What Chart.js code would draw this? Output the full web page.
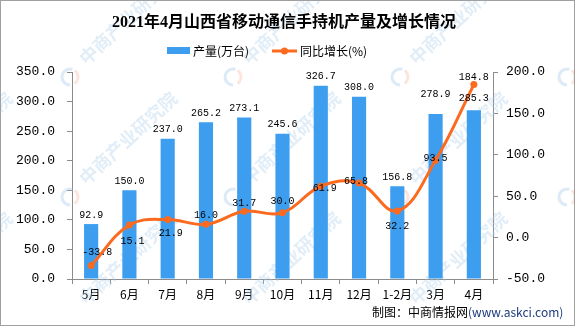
<!DOCTYPE html>
<html>
<head>
<meta charset="utf-8">
<script src="https://cdn.jsdelivr.net/npm/chart.js@4.4.1/dist/chart.umd.min.js"></script>
<style>
  html, body { margin: 0; padding: 0; background: #fff; }
  #wrap { width: 575px; height: 326px; position: relative; }
</style>
</head>
<body>
<div id="wrap"><canvas id="chart" width="575" height="326"></canvas></div>
<script>
const categories = ['5月', '6月', '7月', '8月', '9月', '10月', '11月', '12月', '1-2月', '3月', '4月'];
const output = [92.9, 150.0, 237.0, 265.2, 273.1, 245.6, 326.7, 308.0, 156.8, 278.9, 285.3];
const growth = [-33.8, 15.1, 21.9, 16.0, 31.7, 30.0, 61.9, 65.8, 32.2, 93.5, 184.8];

// label nudges (px) so the value texts sit where the original puts them
const barLabelGap = [9, 9, 9, 9, 9, 9, 9, 9, 9, 20, 12];
const lineLabelDx = [6, 3, 3, 0, 0, 0, 4, -3, 0, 0, 0];
const lineLabelDy = [-13, 16, 14, -9, -8, -11, 2, -2, 15, -2, -7];

const titleText = '2021年4月山西省移动通信手持机产量及增长情况';
const barColor = '#3d9ef0';
const lineColor = '#fb6a1f';
const axisColor = '#8c8c8c';
const cjk = '"Noto Sans CJK SC", "Noto Sans", sans-serif';
const mono = '"Liberation Mono", "DejaVu Sans Mono", monospace';

const decorPlugin = {
    id: 'decor',
    beforeDatasetsDraw(chart) {
        // faint watermark
        const ctx = chart.ctx;
        ctx.save();
        const xs = [-95, 70, 233, 400, 567];
        const ys = [-43, 77, 197];
        xs.forEach(lx => {
            ys.forEach(ly => {
                ctx.save();
                ctx.globalAlpha = 0.35;
                ctx.lineWidth = 3;
                ctx.strokeStyle = '#9cc4e8';
                ctx.beginPath();
                ctx.arc(lx, ly, 8, Math.PI * 0.5, Math.PI * 1.6);
                ctx.stroke();
                ctx.strokeStyle = '#f5b59a';
                ctx.beginPath();
                ctx.arc(lx, ly, 8, Math.PI * 1.7, Math.PI * 2.3);
                ctx.stroke();
                ctx.translate(lx + 12, ly + 104);
                ctx.rotate(-0.75);
                ctx.fillStyle = '#a9cbe9';
                ctx.font = 'bold 18px ' + cjk;
                ctx.textBaseline = 'middle';
                ctx.fillText('中商产业研究院', 0, 0);
                ctx.restore();
            });
        });
        ctx.restore();
    },
    afterDatasetsDraw(chart) {
        const ctx = chart.ctx;
        ctx.save();
        ctx.fillStyle = '#000';
        ctx.font = '10px ' + mono;
        ctx.textAlign = 'center';
        ctx.textBaseline = 'middle';

        chart.getDatasetMeta(1).data.forEach((el, i) => {
            ctx.fillText(output[i].toFixed(1), el.x, el.y - barLabelGap[i]);
        });
        chart.getDatasetMeta(0).data.forEach((el, i) => {
            ctx.fillText(growth[i].toFixed(1), el.x + lineLabelDx[i], el.y + lineLabelDy[i]);
        });

        // title
        ctx.font = 'bold 16px "Liberation Serif", "Noto Sans CJK SC", serif';
        ctx.fillText(titleText, 284, 23);

        // legend
        ctx.fillStyle = barColor;
        ctx.fillRect(167, 47, 23, 7);
        ctx.strokeStyle = lineColor;
        ctx.lineWidth = 3;
        ctx.beginPath();
        ctx.moveTo(272, 51);
        ctx.lineTo(297, 51);
        ctx.stroke();
        ctx.fillStyle = lineColor;
        ctx.beginPath();
        ctx.arc(284.5, 51, 3.5, 0, Math.PI * 2);
        ctx.fill();
        ctx.fillStyle = '#000';
        ctx.font = '12px ' + cjk;
        ctx.textAlign = 'left';
        ctx.fillText('产量(万台)', 193, 51);
        ctx.fillText('同比增长(%)', 300, 51);

        // source
        ctx.fillText('制图：中商情报网', 372, 312);
        const w = ctx.measureText('制图：中商情报网').width;
        ctx.fillStyle = '#1d3a7c';
        ctx.fillText('(www.askci.com)', 372 + w, 312);

        // frame
        ctx.strokeStyle = '#a0a0a0';
        ctx.lineWidth = 1;
        ctx.strokeRect(0.5, 0.5, 574, 325);
        ctx.restore();
    }
};

const ctx = document.getElementById('chart').getContext('2d');
new Chart(ctx, {
    data: {
        labels: categories,
        datasets: [
            {
                type: 'line',
                label: '同比增长(%)',
                data: growth,
                yAxisID: 'y1',
                borderColor: lineColor,
                backgroundColor: lineColor,
                borderWidth: 3,
                pointRadius: 3.5,
                pointBackgroundColor: lineColor,
                pointBorderWidth: 0,
                tension: 0.4,
                order: 1
            },
            {
                type: 'bar',
                label: '产量(万台)',
                data: output,
                yAxisID: 'y',
                backgroundColor: barColor,
                categoryPercentage: 1,
                barPercentage: 0.37,
                order: 2
            }
        ]
    },
    options: {
        responsive: false,
        animation: false,
        layout: { padding: { top: 72, left: 0, right: 0, bottom: 0 } },
        plugins: {
            legend: { display: false },
            title: { display: false },
            tooltip: { enabled: false }
        },
        scales: {
            x: {
                offset: true,
                grid: { offset: true, drawOnChartArea: false, tickLength: 5, color: axisColor },
                border: { color: axisColor },
                ticks: { color: '#000', font: { family: cjk, size: 12 }, padding: 3, maxRotation: 0, autoSkip: false },
                afterFit(scale) { scale.height = 47; }
            },
            y: {
                position: 'left',
                min: 0,
                max: 350,
                grid: { drawOnChartArea: false, tickLength: 5, color: axisColor },
                border: { color: axisColor },
                ticks: {
                    stepSize: 50,
                    color: '#000',
                    padding: 12,
                    font: { family: mono, size: 13 },
                    callback: v => v.toFixed(1)
                },
                afterFit(scale) { scale.width = 72; }
            },
            y1: {
                position: 'right',
                min: -50,
                max: 200,
                grid: { drawOnChartArea: false, tickLength: 5, color: axisColor },
                border: { color: axisColor },
                ticks: {
                    stepSize: 50,
                    color: '#000',
                    padding: 8,
                    font: { family: mono, size: 13 },
                    callback: v => v.toFixed(1)
                },
                afterFit(scale) { scale.width = 82; }
            }
        }
    },
    plugins: [decorPlugin]
});
</script>
</body>
</html>
